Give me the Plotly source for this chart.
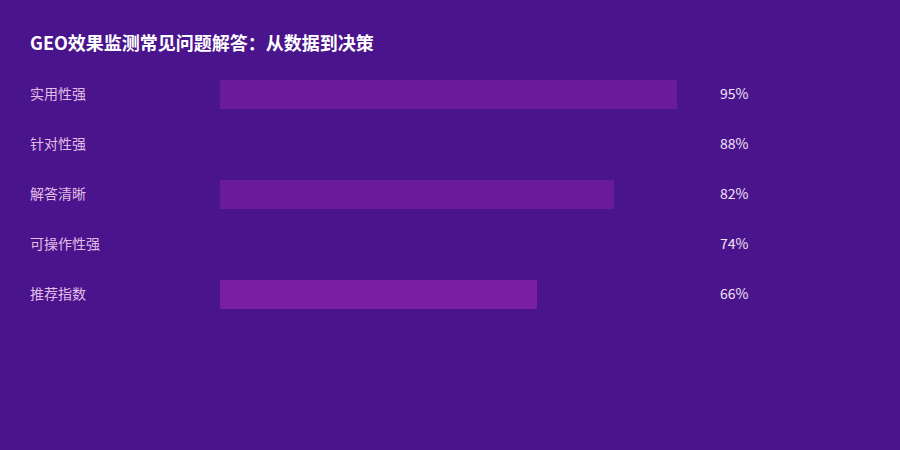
import plotly.graph_objects as go

# chart data
categories = ['实用性强', '针对性强', '解答清晰', '可操作性强', '推荐指数']
values = [95, 88, 82, 74, 66]
bar_colors = ['#6a1b9a', '#4a148c', '#6a1b9a', '#4a148c', '#7b1fa2']

bg = '#4a148c'
font = 'Noto Sans CJK SC'

fig = go.Figure()
fig.add_trace(go.Bar(
    x=values,
    y=categories,
    orientation='h',
    marker=dict(color=bar_colors, line=dict(width=0)),
    width=0.58,
    hoverinfo='skip',
))

# left labels and right percentages
for cat, val in zip(categories, values):
    fig.add_annotation(x=0, xref='paper', y=cat, yref='y', text=cat,
                       xanchor='left', xshift=-192, yshift=1, showarrow=False,
                       font=dict(family=font, size=14, color='#e1bee7'))
    fig.add_annotation(x=100, xref='x', y=cat, yref='y', text=f'{val}%',
                       xanchor='left', xshift=17, yshift=1, showarrow=False,
                       font=dict(family=font, size=14, color='#f3e5f5'))

fig.update_layout(
    width=900, height=450,
    paper_bgcolor=bg, plot_bgcolor=bg,
    margin=dict(l=220, r=199, t=69, b=131),
    showlegend=False,
    title=dict(text='<b>GEO效果监测常见问题解答：从数据到决策</b>',
               x=30 / 900, xanchor='left', y=1 - 44 / 450, yanchor='middle',
               font=dict(family=font, size=18, color='#ffffff')),
    xaxis=dict(range=[0, 100], visible=False, fixedrange=True),
    yaxis=dict(autorange='reversed', visible=False, fixedrange=True),
    bargap=0,
)

fig.write_html('out.html', config={'displayModeBar': False},
               post_script="document.body.style.margin='0';")
